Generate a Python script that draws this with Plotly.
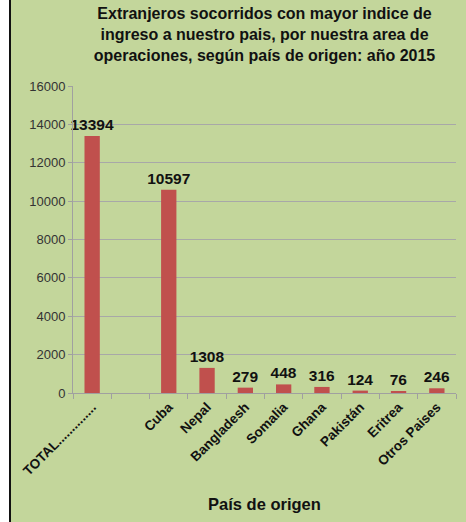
import plotly.graph_objects as go

paises = ["TOTAL..............", " ", "Cuba", "Nepal", "Bangladesh", "Somalia",
          "Ghana", "Pakistán", "Eritrea", "Otros Paises"]
socorridos = [13394, None, 10597, 1308, 279, 448, 316, 124, 76, 246]
etiquetas = ["" if v is None else str(v) for v in socorridos]
y_ticks = list(range(0, 16001, 2000))

verde = "#c3d69b"
W, H = 466, 522
L, R, T, B = 73, 10, 86, 129
pw = W - L - R
ph = H - T - B

fig = go.Figure()
fig.add_trace(go.Bar(
    x=paises, y=socorridos, text=etiquetas, textposition="outside",
    constraintext="none",
    textfont=dict(family="Liberation Sans, Arial", size=15.5, color="#111111", weight="bold"),
    marker=dict(color="#c0504d", line=dict(width=0)),
    cliponaxis=False, width=0.4,
))

# borde izquierdo (blanco + linea negra)
fig.add_shape(type="rect", xref="paper", yref="paper",
              x0=-L / pw, x1=(9 - L) / pw, y0=-B / ph, y1=1 + T / ph,
              fillcolor="white", line=dict(width=0), layer="below")
fig.add_shape(type="line", xref="paper", yref="paper",
              x0=(10 - L) / pw, x1=(10 - L) / pw, y0=-B / ph, y1=1 + T / ph,
              line=dict(color="#111111", width=2))

fig.update_layout(
    width=W, height=H,
    margin=dict(l=L, r=R, t=T, b=B),
    paper_bgcolor=verde, plot_bgcolor=verde,
    showlegend=False,
    font=dict(family="Liberation Sans, Arial", color="#222222"),
    title=dict(
        text="Extranjeros socorridos con mayor indice de<br>ingreso a nuestro pais, por nuestra area de<br>operaciones, según país de origen: año 2015",
        x=(L + pw / 2) / W, xanchor="center", y=1 - 19 / H, yanchor="middle",
        font=dict(size=16, color="#111111", weight="bold"),
    ),
    bargap=0.6,
)
fig.update_xaxes(
    tickangle=-45, tickfont=dict(size=13.5, color="#111111", weight="bold"),
    showline=True, linecolor="#a0a0a0", linewidth=1,
    ticks="outside", ticklen=5, tickcolor="#a0a0a0", tickson="boundaries",
    showgrid=False,
    title=dict(text="País de origen", font=dict(size=16.5, color="#111111", weight="bold"), standoff=21),
    automargin=False,
)
fig.update_yaxes(
    range=[0, 16000], tickvals=y_ticks, tickformat="d",
    tickfont=dict(size=13, color="#333333"),
    showgrid=True, gridcolor="#a8a8a8", gridwidth=1,
    showline=True, linecolor="#a0a0a0", linewidth=1,
    ticks="outside", ticklen=4, tickcolor="#a0a0a0",
    zeroline=False, automargin=False,
)

fig.write_html("out.html", config={"displayModeBar": False},
               post_script="document.body.style.margin='0';")
